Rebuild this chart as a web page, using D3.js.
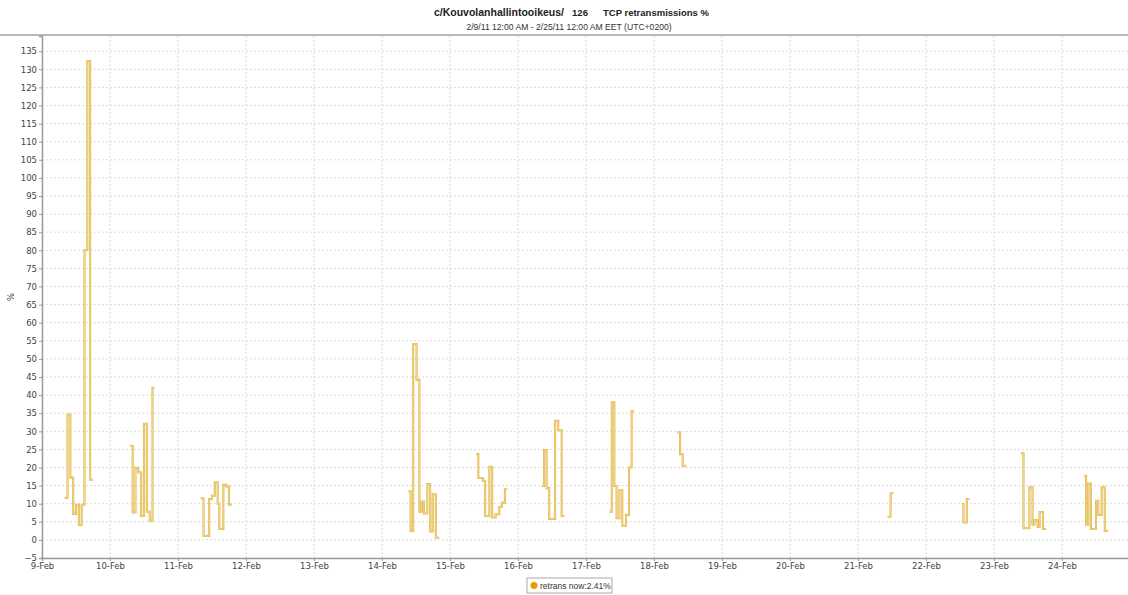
<!DOCTYPE html>
<html>
<head>
<meta charset="utf-8">
<script src="https://cdn.jsdelivr.net/npm/d3@7"></script>
<style>
  body { margin: 0; background: #fff; }
  svg { display: block; font-family: "DejaVu Sans", Verdana, sans-serif; }
</style>
</head>
<body>
<svg id="chart" width="1128" height="595"></svg>
<script>
// hours after 9-Feb 00:00 where each step begins, null value = gap (end of previous step run)
const hours = [
    8, 9, 10, 11, 12, 13, 14, 15, 16, 17, 18,
    31, 32, 33, 34, 35, 36, 37, 38, 39, 39.6,
    56, 57, 59, 60, 61, 62, 62.6, 64, 65, 66, 67,
    129.3, 130.1, 131, 132.2, 133.2, 134, 134.8, 136, 137, 137.9, 139, 140.2,
    153.2, 154, 155.6, 156.4, 157.9, 158.9, 160.1, 161.4, 162.3, 163.4, 164.2,
    176.4, 177.2, 178.1, 179, 181.1, 182.2, 183.4, 184.3,
    200.3, 201.1, 202, 202.8, 203.8, 204.8, 206.1, 207.2, 208.1, 209,
    224.2, 225.2, 226.1, 227.5,
    298.4, 299.5, 300.5,
    324.6, 325.2, 326.4, 327.3,
    345.5, 346.4, 348.5, 349.6, 350.3, 351.4, 352.1, 353.3, 354.4,
    367.8, 368.5, 369.3, 370.2, 372, 372.8, 374, 375.1, 376.3
];
const retrans = [
    11.6, 34.6, 17.2, 7.2, 9.7, 4.1, 9.7, 80, 132.3, 16.6, null,
    26, 7.6, 19.9, 18.6, 6.6, 32.1, 7.8, 5.3, 42, null,
    11.5, 1.1, 11.3, 12.2, 15.9, 10, 3, 15.2, 14.8, 9.7, null,
    13.4, 2.5, 54.1, 44.2, 7.8, 10.6, 7.3, 15.4, 2.3, 12.6, 0.6, null,
    23.7, 17.1, 16.3, 6.6, 20.2, 6.2, 7.1, 9.1, 10.3, 14, null,
    14.9, 24.8, 14.3, 5.8, 32.9, 30.3, 6.6, null,
    7.8, 38, 14.9, 6, 13.8, 3.9, 6.9, 20, 35.5, null,
    29.7, 23.7, 20.5, null,
    6.4, 12.9, null,
    9.9, 4.8, 11.3, null,
    23.9, 3.2, 14.5, 4.2, 5.4, 3.6, 7.7, 3, null,
    17.7, 4.2, 15.6, 3, 10.8, 6.9, 14.5, 2.5, null
];
const yTicks = d3.range(-5, 136, 5);
const titleParts = ["c/Kouvolanhallintooikeus/", "126", "TCP retransmissions %"];
const subtitleText = "2/9/11 12:00 AM - 2/25/11 12:00 AM EET (UTC+0200)";
const legendText = "retrans now:2.41%";

const start = new Date(2011, 1, 9);
const end = new Date(2011, 1, 25);
const toDate = h => new Date(start.getTime() + h * 3600e3);

const svg = d3.select('#chart');
const plotLeft = 42, plotRight = 1130, plotTop = 36, plotBottom = 558;
const sans = '"Liberation Sans", Arial, sans-serif';

const x = d3.scaleTime().domain([start, end]).range([plotLeft, plotRight]);
const y = d3.scaleLinear().domain([-5, 139.2]).range([plotBottom, plotTop]);

// title
const titleG = svg.append('g')
    .style('font-family', sans).style('font-size', '9.5px').style('font-weight', 'bold').style('fill', '#222');
titleG.append('text').attr('x', 564).attr('y', 16).attr('text-anchor', 'end')
    .style('font-size', '10.5px').text(titleParts[0]);
titleG.append('text').attr('x', 580).attr('y', 16).attr('text-anchor', 'middle').text(titleParts[1]);
titleG.append('text').attr('x', 603).attr('y', 16).attr('text-anchor', 'start').text(titleParts[2]);
svg.append('text')
    .attr('x', 569).attr('y', 30)
    .attr('text-anchor', 'middle')
    .style('font-family', sans).style('font-size', '8.6px').style('fill', '#333')
    .text(subtitleText);
svg.append('line')
    .attr('x1', 0).attr('x2', 1128).attr('y1', plotTop - 1).attr('y2', plotTop - 1)
    .style('stroke', '#b8b8b8').style('stroke-width', 2);

// grid
const grid = svg.append('g');
grid.selectAll('line.h').data(yTicks).enter().append('line')
    .attr('x1', plotLeft).attr('x2', plotRight)
    .attr('y1', d => y(d)).attr('y2', d => y(d))
    .style('stroke', '#dcdcdc').style('stroke-dasharray', '2,2');
grid.selectAll('line.v').data(x.ticks(d3.timeDay.every(1))).enter().append('line')
    .attr('x1', d => x(d)).attr('x2', d => x(d))
    .attr('y1', plotTop).attr('y2', plotBottom)
    .style('stroke', '#dcdcdc').style('stroke-dasharray', '2,2');

// axes
const yAxis = svg.append('g').attr('transform', `translate(${plotLeft},0)`)
    .call(d3.axisLeft(y).tickValues(yTicks).tickSize(3).tickPadding(2));
const xAxis = svg.append('g').attr('transform', `translate(0,${plotBottom})`)
    .call(d3.axisBottom(x).ticks(d3.timeDay.every(1)).tickFormat(d3.timeFormat('%-d-%b')).tickSize(3).tickPadding(2));
[yAxis, xAxis].forEach(a => {
    a.select('.domain').style('stroke', '#9a9a9a').style('stroke-width', 1.5);
    a.selectAll('.tick line').style('stroke', '#9a9a9a');
    a.selectAll('text').style('font-size', '8.5px').style('fill', '#444').style('font-family', '"DejaVu Sans", Verdana, sans-serif');
});
xAxis.selectAll('.tick').filter(d => +d === +end).remove();

svg.append('text')
    .attr('transform', 'translate(14,297) rotate(-90)')
    .attr('text-anchor', 'middle')
    .style('font-size', '8.5px').style('fill', '#333')
    .text('%');

// build series: each run of values ends at the hour stored with the null
const points = [];
hours.forEach((h, i) => {
    const v = retrans[i];
    if (v === null) {
        points.push({ t: toDate(h), v: retrans[i - 1] });
        points.push({ t: toDate(h), v: null });
    } else {
        points.push({ t: toDate(h), v });
    }
});

const line = d3.line()
    .defined(d => d.v !== null)
    .x(d => x(d.t))
    .y(d => y(d.v))
    .curve(d3.curveStepAfter);

svg.append('path').datum(points)
    .attr('d', line)
    .style('fill', 'none').style('stroke', '#e3b84c').style('stroke-width', 2.1);
svg.append('path').datum(points)
    .attr('d', line)
    .style('fill', 'none').style('stroke', '#f8e6ae').style('stroke-width', 0.6);

// legend
const lg = svg.append('g').attr('transform', 'translate(527,578)');
lg.append('rect').attr('width', 85).attr('height', 15)
    .style('fill', '#fff').style('stroke', '#aaa');
lg.append('circle').attr('cx', 7).attr('cy', 7.5).attr('r', 3.5).style('fill', '#e0a000');
lg.append('text').attr('x', 13).attr('y', 11)
    .style('font-family', sans).style('font-size', '8.5px').style('fill', '#333')
    .text(legendText);
</script>
</body>
</html>
